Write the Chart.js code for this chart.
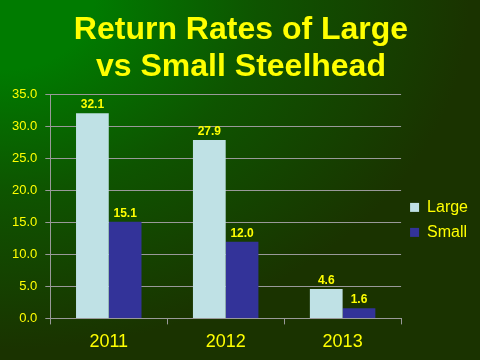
<!DOCTYPE html>
<html>
<head>
<meta charset="utf-8">
<script src="https://cdn.jsdelivr.net/npm/chart.js@4"></script>
<style>
    html, body { margin: 0; padding: 0; }
    body {
        width: 480px;
        height: 360px;
        background: radial-gradient(ellipse 470px 350px at 0 0, #007b00 20%, #0e5400 55%, #1a3300 100%);
    }
    #chartBox { width: 480px; height: 360px; }
</style>
</head>
<body>
<div id="chartBox"><canvas id="returnChart"></canvas></div>
<script>
const years = ['2011', '2012', '2013'];
const largeRates = [32.1, 27.9, 4.6];
const smallRates = [15.1, 12.0, 1.6];
const yTicks = [0, 5, 10, 15, 20, 25, 30, 35];

// prints the value above each bar
const barValues = {
    id: 'barValues',
    afterDatasetsDraw(chart) {
        const ctx = chart.ctx;
        ctx.save();
        ctx.font = 'bold 12px Arial, "Liberation Sans", sans-serif';
        ctx.fillStyle = '#ffff00';
        ctx.textAlign = 'center';
        ctx.textBaseline = 'bottom';
        chart.data.datasets.forEach((ds, i) => {
            chart.getDatasetMeta(i).data.forEach((bar, j) => {
                ctx.fillText(ds.data[j].toFixed(1), bar.x, bar.y - 2);
            });
        });
        ctx.restore();
    }
};

function renderReturnChart() {
    const ctx = document.getElementById('returnChart').getContext('2d');
    new Chart(ctx, {
        type: 'bar',
        data: {
            labels: years,
            datasets: [{
                label: 'Large',
                data: largeRates,
                backgroundColor: '#bfe1e5'
            }, {
                label: 'Small',
                data: smallRates,
                backgroundColor: '#333399'
            }]
        },
        options: {
            responsive: true,
            maintainAspectRatio: false,
            animation: false,
            categoryPercentage: 0.56,
            barPercentage: 1.0,
            layout: {
                padding: { left: 4, right: 2, top: 0, bottom: 0 }
            },
            plugins: {
                title: {
                    display: true,
                    text: ['Return Rates of Large', 'vs Small Steelhead'],
                    color: '#ffff00',
                    font: { family: 'Arial, "Liberation Sans", sans-serif', size: 32, weight: 'bold', lineHeight: 1.15 },
                    padding: { top: 12, bottom: 9 }
                },
                legend: {
                    position: 'right',
                    align: 'start',
                    // empty legend title, only used to push the items down
                    title: {
                        display: true,
                        text: '',
                        padding: { top: 176, bottom: 0 }
                    },
                    labels: {
                        color: '#ffff00',
                        boxWidth: 9,
                        boxHeight: 9,
                        padding: 9,
                        font: { family: 'Arial, "Liberation Sans", sans-serif', size: 16 }
                    }
                },
                tooltip: { enabled: false }
            },
            scales: {
                x: {
                    grid: {
                        display: true,
                        drawOnChartArea: false,
                        drawTicks: true,
                        tickLength: 6,
                        color: '#999999'
                    },
                    border: { color: '#999999' },
                    ticks: {
                        color: '#ffff00',
                        padding: 7,
                        font: { family: 'Arial, "Liberation Sans", sans-serif', size: 18 }
                    }
                },
                y: {
                    min: 0,
                    max: 35,
                    afterBuildTicks: axis => {
                        axis.ticks = yTicks.map(v => ({ value: v }));
                    },
                    grid: {
                        color: '#999999',
                        tickLength: 5
                    },
                    border: { color: '#999999' },
                    ticks: {
                        color: '#ffff00',
                        padding: 8,
                        callback: v => Number(v).toFixed(1),
                        font: { family: 'Arial, "Liberation Sans", sans-serif', size: 13 }
                    }
                }
            }
        },
        plugins: [barValues]
    });
}

renderReturnChart();
</script>
</body>
</html>
